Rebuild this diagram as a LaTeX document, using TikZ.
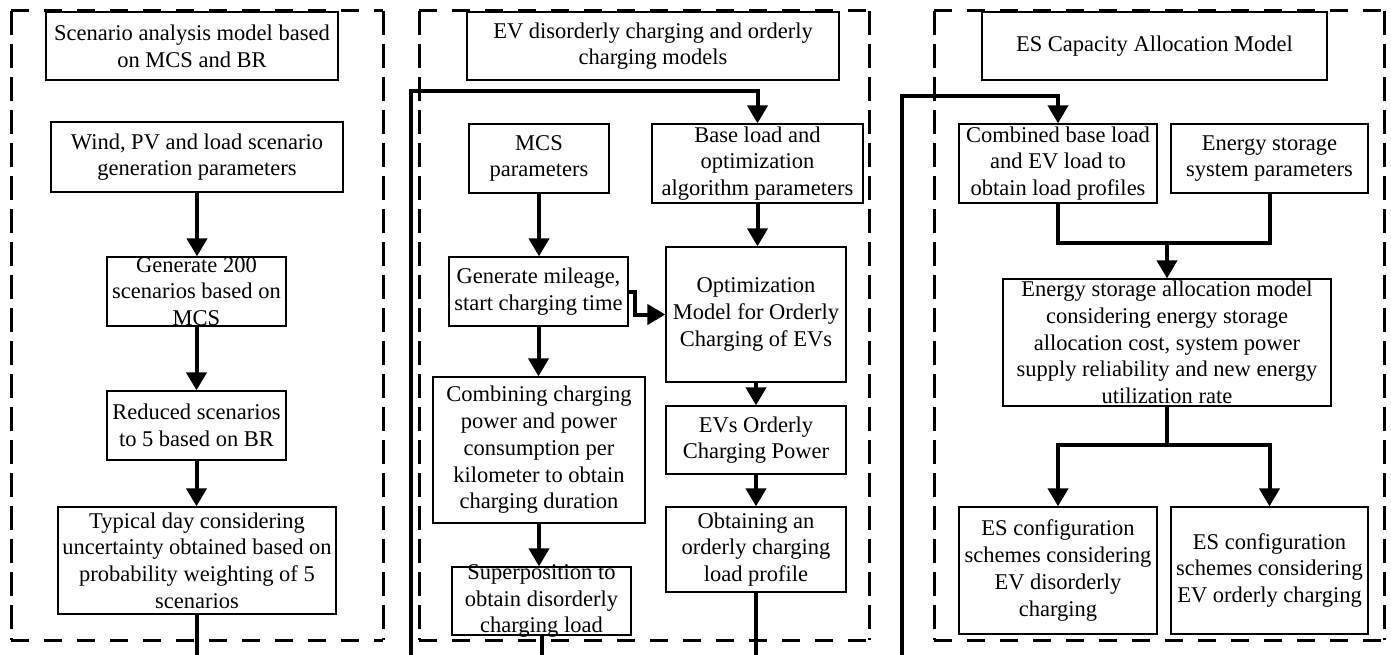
\documentclass[tikz,border=0pt]{standalone}
\usepackage{fontspec}
\setmainfont{Liberation Serif}
\usetikzlibrary{arrows.meta}
\tikzset{
  x=1pt, y=-1pt,
  hdash/.style={draw, line width=3pt, dash pattern=on 18pt off 15pt},
  vdash/.style={draw, line width=3pt, dash pattern=on 24pt off 9pt},
  box/.style={draw, line width=1.3pt, inner sep=0pt, fill=white},
  txt/.style={align=center, inner sep=0pt, font=\fontsize{22.5}{26.7}\selectfont},
  flow/.style={line width=4pt},
  arr/.style={line width=4pt, -{Triangle[width=20pt,length=18pt]}},
}
\newcommand{\bx}[6]{%
  \node[box, minimum width=#4, minimum height=#5] (#1) at (#2,#3) {};
  \node[txt] at (#1) {#6};}
\newcommand{\frm}[4]{%
  \draw[hdash] (#1,#2) -- (#3,#2);
  \draw[hdash] (#1,#4) -- (#3,#4);
  \draw[vdash] (#1,#2) -- (#1,#4);
  \draw[vdash] (#3,#2) -- (#3,#4);}
\begin{document}
\begin{tikzpicture}
\useasboundingbox (0,0) rectangle (1391,655);
% frames
\frm{11}{11}{383}{640}
\frm{419}{11}{869}{640}
\frm{934}{11}{1384}{640}
% loose ends at the bottom
\coordinate (e1) at (197,655);
\coordinate (e2) at (541,655);
\coordinate (e3) at (756,655);
\coordinate (L1) at (411,655);
\coordinate (L1top) at (411,91);
\coordinate (L2) at (902,655);
\coordinate (L2top) at (902,96);
% panel 1
\bx{t1}{192}{46}{292}{68}{Scenario analysis model based\\on MCS and BR}
\bx{wind}{197}{157}{292}{70}{Wind, PV and load scenario\\generation parameters}
\bx{gen}{196.5}{291.5}{179}{69}{Generate 200\\scenarios based on\\MCS}
\bx{red}{196.5}{425.5}{179}{69}{Reduced scenarios\\to 5 based on BR}
\bx{typ}{197}{560.5}{278}{107}{Typical day considering\\uncertainty obtained based on\\probability weighting of 5\\scenarios}
% panel 2
\bx{t2}{653}{46}{372}{68}{EV disorderly charging and orderly\\charging models}
\bx{mcs}{539}{158.5}{140}{69}{MCS\\parameters}
\bx{base}{757.5}{163.5}{211}{79}{Base load and\\optimization\\algorithm parameters}
\bx{genm}{538.5}{291.5}{179}{69}{Generate mileage,\\start charging time}
\bx{opt}{756}{314.5}{180}{135}{Optimization\\Model for Orderly\\Charging of EVs}
\bx{comb}{539}{450}{212}{146}{Combining charging\\power and power\\consumption per\\kilometer to obtain\\charging duration}
\bx{sup}{541.5}{601}{179}{68}{Superposition to\\obtain disorderly\\charging load}
\bx{evo}{756}{440}{180}{68}{EVs Orderly\\Charging Power}
\bx{obt}{756}{549.5}{180}{85}{Obtaining an\\orderly charging\\load profile}
% panel 3
\bx{t3}{1154.5}{46}{345}{68}{ES Capacity Allocation Model}
\bx{comb2}{1058}{163.5}{198}{79}{Combined base load\\and EV load to\\obtain load profiles}
\bx{ess}{1269.5}{158.5}{197}{69}{Energy storage\\system parameters}
\bx{alloc}{1167}{342.5}{328}{127}{Energy storage allocation model\\considering energy storage\\allocation cost, system power\\supply reliability and new energy\\utilization rate}
\bx{cfg1}{1058}{570.5}{198}{127}{ES configuration\\schemes considering\\EV disorderly\\charging}
\bx{cfg2}{1269.5}{570.5}{197}{127}{ES configuration\\schemes considering\\EV orderly charging}
% connectors panel 1
\draw[arr] (wind.south) -- (wind.south |- gen.north);
\draw[arr] (gen.south) -- (gen.south |- red.north);
\draw[arr] (red.south) -- (red.south |- typ.north);
\draw[flow] (typ.south) -- (e1);
% connectors panel 2
\draw[arr] (L1) -- (L1top) -| (base.north);
\draw[arr] (mcs.south) -- (mcs.south |- genm.north);
\draw[arr] (base.south) -- (base.south |- opt.north);
\draw[arr] (genm.east) -- ++(6,0) |- (opt.west);
\draw[arr] (genm.south) -- (genm.south |- comb.north);
\draw[arr] (comb.south) -- (comb.south |- sup.north);
\draw[flow] (sup.south) -- (sup.south |- e2);
\draw[arr] (opt.south) -- (evo.north);
\draw[arr] (evo.south) -- (obt.north);
\draw[flow] (obt.south) -- (e3);
% connectors panel 3
\draw[arr] (L2) -- (L2top) -| (comb2.north);
\coordinate (j1) at (1167,243);
\draw[flow] (comb2.south) |- (j1) -| (ess.south);
\draw[arr] (j1) -- (alloc.north);
\coordinate (j2) at (1167,445);
\draw[flow] (alloc.south) -- (j2);
\draw[arr] (j2) -| (cfg1.north);
\draw[arr] (j2) -| (cfg2.north);
\end{tikzpicture}
\end{document}
